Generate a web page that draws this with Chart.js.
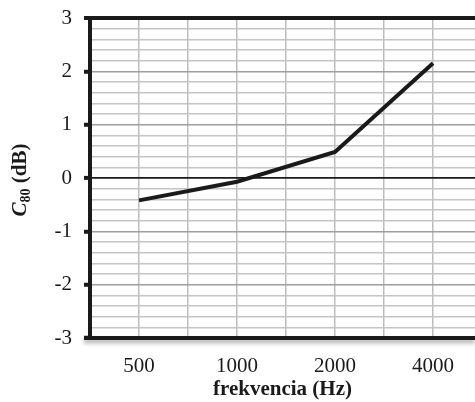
<!DOCTYPE html>
<html>
<head>
<meta charset="utf-8">
<script src="https://cdn.jsdelivr.net/npm/chart.js@4.4.1/dist/chart.umd.min.js"></script>
<style>
html,body{margin:0;padding:0;background:#fff;overflow:hidden;}
#wrap{width:475px;height:402px;position:relative;}
</style>
</head>
<body>
<div id="wrap"><canvas id="c" width="475" height="402"></canvas></div>
<script>
const categories = ['500', '1000', '2000', '4000'];
const c80Values = [-0.42, -0.07, 0.49, 2.15];
const yTickValues = [-3, -2, -1, 0, 1, 2, 3];
const xTitle = 'frekvencia (Hz)';

const FONT = "'Liberation Serif', 'Times New Roman', serif";
const points = categories.map((c, i) => ({x: i + 1, y: c80Values[i]}));

const yTitlePlugin = {
  id: 'yTitle',
  afterDraw(chart) {
    const ctx = chart.ctx;
    const area = chart.chartArea;
    ctx.save();
    ctx.translate(21, (area.top + area.bottom) / 2 + 2);
    ctx.rotate(-Math.PI / 2);
    ctx.fillStyle = '#1a1a1a';
    ctx.textBaseline = 'middle';
    const f1 = "italic bold 21px " + FONT;
    const f2 = "bold 14px " + FONT;
    const f3 = "bold 21px " + FONT;
    ctx.font = f1; const w1 = ctx.measureText('C').width;
    ctx.font = f2; const w2 = ctx.measureText('80').width;
    ctx.font = f3; const w3 = ctx.measureText(' (dB)').width;
    let x = -(w1 + w2 + w3) / 2;
    ctx.font = f1; ctx.fillText('C', x, 0); x += w1;
    ctx.font = f2; ctx.fillText('80', x, 5); x += w2;
    ctx.font = f3; ctx.fillText(' (dB)', x, 0);
    ctx.restore();
  }
};

const shadowPlugin = {
  id: 'axisShadow',
  beforeDatasetsDraw(chart) {
    const ctx = chart.ctx;
    const a = chart.chartArea;
    ctx.save();
    ctx.strokeStyle = '#1a1a1a';
    ctx.lineWidth = 4;
    ctx.shadowColor = 'rgba(0,0,0,0.35)';
    ctx.shadowBlur = 4;
    ctx.shadowOffsetY = 3;
    ctx.beginPath();
    ctx.moveTo(a.left - 6, a.bottom);
    ctx.lineTo(a.right, a.bottom);
    ctx.stroke();
    ctx.restore();
  }
};

new Chart(document.getElementById('c'), {
  type: 'line',
  data: {
    datasets: [{
      data: points,
      borderColor: '#1a1a1a',
      borderWidth: 4,
      pointRadius: 0,
      tension: 0,
      fill: false
    }]
  },
  options: {
    responsive: false,
    animation: false,
    events: [],
    layout: {padding: {left: 0, top: 18, right: 0, bottom: 0}},
    plugins: {legend: {display: false}, tooltip: {enabled: false}},
    scales: {
      x: {
        type: 'linear',
        min: 0.5,
        max: 0.5 + 385 / 98,
        afterFit(s) { s.height = 64; s.paddingLeft = 0; s.paddingRight = 0; },
        border: {display: false},
        grid: {
          color: '#bdbdbd',
          lineWidth: 1.5,
          drawTicks: false
        },
        ticks: {
          stepSize: 0.5,
          includeBounds: false,
          autoSkip: false,
          maxRotation: 0,
          padding: 16,
          color: '#1a1a1a',
          font: {family: FONT, size: 21},
          callback: (v) => Number.isInteger(v) && v >= 1 && v <= categories.length ? categories[v - 1] : ''
        },
        title: {
          display: true,
          text: xTitle,
          color: '#1a1a1a',
          font: {family: FONT, size: 21, weight: 'bold'},
          padding: {top: 0, bottom: 0}
        }
      },
      y: {
        min: -3,
        max: 3,
        afterFit(s) { s.width = 90; s.paddingTop = 0; s.paddingBottom = 0; },
        border: {display: true, color: '#1a1a1a', width: 4},
        afterBuildTicks(s) {
          const t = [];
          for (let i = -15; i <= 15; i++) t.push({value: i / 5});
          s.ticks = t;
        },
        grid: {
          color: (ctx) => {
            const v = Math.round(ctx.tick.value * 5) / 5;
            if (v === 3) return '#1a1a1a';
            if (v === 0) return '#1a1a1a';
            if (v === -3) return 'rgba(0,0,0,0)';
            return Number.isInteger(v) ? '#9e9e9e' : '#c4c4c4';
          },
          lineWidth: (ctx) => {
            const v = Math.round(ctx.tick.value * 5) / 5;
            if (v === 3) return 4;
            if (v === 0) return 1.8;
            return 1.5;
          },
          tickLength: 6,
          tickColor: (ctx) => {
            const v = Math.round(ctx.tick.value * 5) / 5;
            return Number.isInteger(v) ? '#1a1a1a' : 'rgba(0,0,0,0)';
          },
          tickWidth: (ctx) => {
            const v = Math.round(ctx.tick.value * 5) / 5;
            return Number.isInteger(v) ? 4 : 1;
          }
        },
        ticks: {
          autoSkip: false,
          padding: 12,
          color: '#1a1a1a',
          font: {family: FONT, size: 21},
          callback: (v) => {
            const r = Math.round(v * 5) / 5;
            return yTickValues.includes(r) ? String(r) : '';
          }
        }
      }
    }
  },
  plugins: [yTitlePlugin, shadowPlugin]
});
</script>
</body>
</html>
